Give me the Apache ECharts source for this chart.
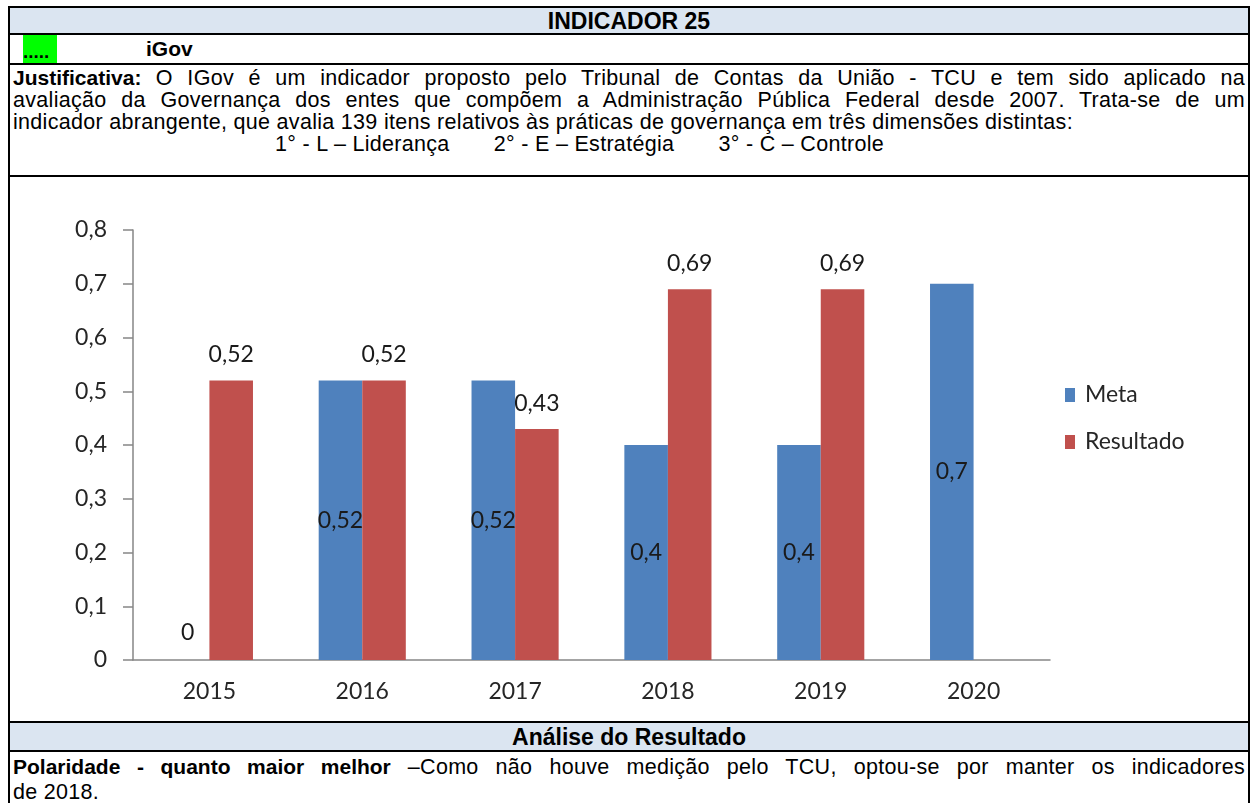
<!DOCTYPE html>
<html>
<head>
<meta charset="utf-8">
<script src="https://cdn.jsdelivr.net/npm/echarts@6/dist/echarts.min.js"></script>
<style>
  body { margin: 0; background: #fff; font-family: "Liberation Sans", Arial, sans-serif; color: #000; }
  #page { position: absolute; left: 8px; top: 6px; width: 1238px; border: 2px solid #000; border-bottom: none; }
  .row { position: relative; border-bottom: 2px solid #000; box-sizing: border-box; }
  .hdr { background: #dbe5f1; font-weight: bold; text-align: center; font-size: 23px; }
  .txt { font-size: 21.5px; letter-spacing: 0.3px; line-height: 22px; padding: 0 3px; }
  .txt b { font-size: 21px; letter-spacing: 0; }
  .just { text-align: justify; text-align-last: justify; white-space: nowrap; }
  .gap { display: inline-block; width: 38px; }
  #chart { width: 1238px; height: 544px; }
</style>
</head>
<body>
<div id="page">
  <div class="row hdr" style="height:27px;line-height:26px;">INDICADOR 25</div>
  <div class="row" style="height:30px;">
    <span style="position:absolute;left:13px;top:0;width:34px;height:28px;background:#00ff00;font-weight:bold;font-size:19px;line-height:34px;overflow:hidden;">.....</span>
    <span style="position:absolute;left:136px;top:0;font-weight:bold;font-size:21px;line-height:28px;">iGov</span>
  </div>
  <div class="row txt" style="height:112px;padding-top:2px;">
    <div class="just"><b>Justificativa:</b> O IGov é um indicador proposto pelo Tribunal de Contas da União - TCU e tem sido aplicado na</div>
    <div class="just">avaliação da Governança dos entes que compõem a Administração Pública Federal desde 2007. Trata-se de um</div>
    <div>indicador abrangente, que avalia 139 itens relativos às práticas de governança em três dimensões distintas:</div>
    <div style="padding-left:262px;white-space:nowrap;">1° - L – Liderança <span class="gap"></span>2° - E – Estratégia <span class="gap"></span>3° - C – Controle</div>
  </div>
  <div class="row" style="height:546px;"><div id="chart"></div></div>
  <div class="row hdr" style="height:29px;line-height:28px;">Análise do Resultado</div>
  <div class="txt" style="padding-top:2px;line-height:25px;">
    <div class="just"><b>Polaridade - quanto maior melhor</b> –Como não houve medição pelo TCU, optou-se por manter os indicadores</div>
    <div>de 2018.</div>
  </div>
</div>
<script>
const years = ['2015', '2016', '2017', '2018', '2019', '2020'];
const meta = [0, 0.52, 0.52, 0.4, 0.4, 0.7];
const resultado = [0.52, 0.52, 0.43, 0.69, 0.69, '-'];
const yMax = 0.8;
const yStep = 0.1;

const chartFont = 'Lato, "Open Sans", sans-serif';
const fs = 23;
const comma = (v) => String(+(+v).toFixed(2)).replace('.', ',');

const chart = echarts.init(document.getElementById('chart'), null, { renderer: 'canvas' });

chart.setOption({
  animation: false,
  textStyle: { fontFamily: chartFont },
  grid: { left: 123, right: 198, top: 53, bottom: 61 },
  legend: {
    orient: 'vertical',
    left: 1050,
    top: 201,
    itemWidth: 10,
    itemHeight: 14,
    itemGap: 23,
    icon: 'rect',
    textStyle: { fontSize: fs, lineHeight: 24, color: '#262626', fontFamily: chartFont, padding: [0, 0, 0, 5] },
    data: ['Meta', 'Resultado'],
  },
  xAxis: {
    type: 'category',
    data: years,
    axisLine: { lineStyle: { color: '#868686', width: 1.5 } },
    axisTick: { length: 7, lineStyle: { color: '#868686', width: 1.5 } },
    axisLabel: { fontSize: fs, color: '#262626', margin: 20 },
  },
  yAxis: {
    type: 'value',
    min: 0,
    max: yMax,
    interval: yStep,
    splitLine: { show: false },
    axisLine: { show: true, lineStyle: { color: '#868686', width: 1.5 } },
    axisTick: { show: true, inside: false, length: 10, lineStyle: { color: '#868686', width: 1.5 } },
    axisLabel: { fontSize: fs, color: '#262626', margin: 26, formatter: comma },
  },
  series: [
    {
      name: 'Meta',
      type: 'bar',
      barGap: 0,
      barCategoryGap: '43%',
      itemStyle: { color: '#4f81bd' },
      label: { show: true, position: 'inside', fontSize: fs, color: '#1a1a1a', formatter: (p) => comma(p.value) },
      data: meta.map((v) => (v === 0 ? { value: v, label: { position: 'top', distance: 16 } } : v)),
    },
    {
      name: 'Resultado',
      type: 'bar',
      itemStyle: { color: '#c0504d' },
      label: { show: true, position: 'top', distance: 14, fontSize: fs, color: '#1a1a1a', formatter: (p) => comma(p.value) },
      data: resultado,
    },
  ],
});
</script>
</body>
</html>
